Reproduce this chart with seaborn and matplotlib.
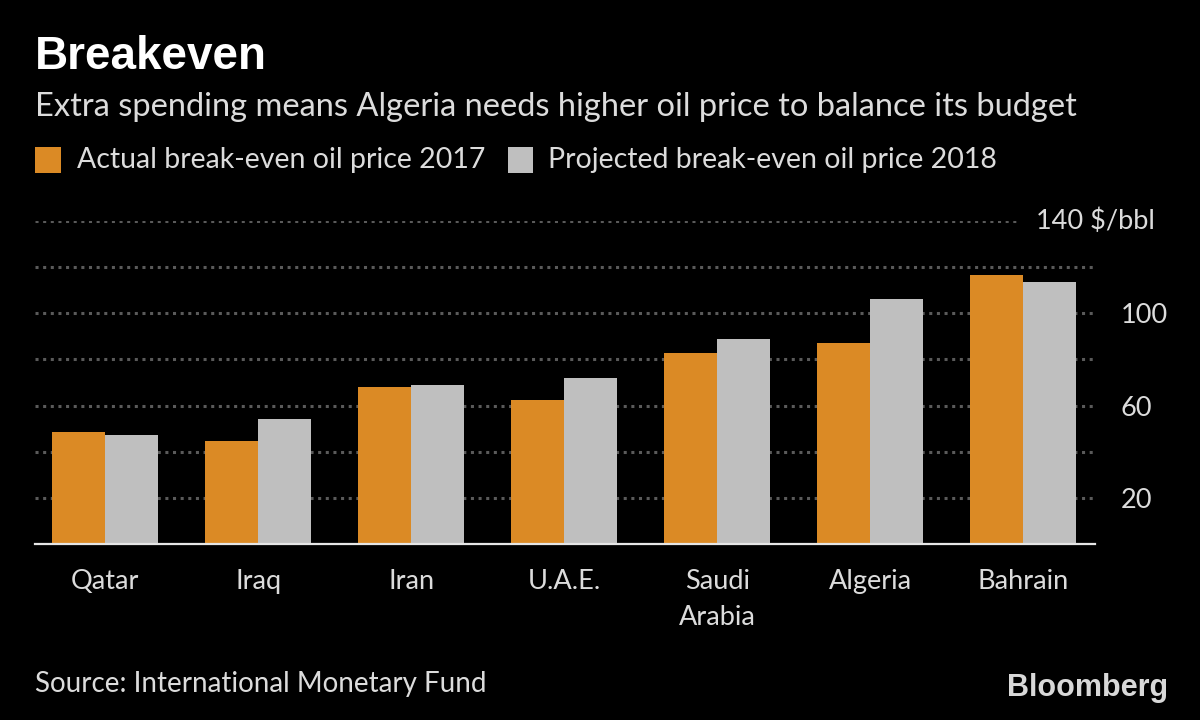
"""
Breakeven oil prices: actual 2017 vs projected 2018 (Bloomberg style, dark).
"""
import matplotlib
matplotlib.use("Agg")
import matplotlib.pyplot as plt
from matplotlib.patches import Rectangle
import pandas as pd
import seaborn as sns

countries = ["Qatar", "Iraq", "Iran", "U.A.E.", "Saudi\nArabia", "Algeria", "Bahrain"]
actual_2017 = [48.7, 44.8, 68.0, 62.3, 83.0, 87.1, 116.7]
projected_2018 = [47.1, 54.2, 68.7, 72.0, 88.7, 106.4, 113.5]
series = ["Actual break-even oil price 2017", "Projected break-even oil price 2018"]
y_ticks = [20, 40, 60, 80, 100, 120]
y_labels = ["20", "", "60", "", "100", ""]

ORANGE = "#db8a25"
GREY = "#bfbfbf"
BG = "#000000"
TXT = "#dcdcdc"

df = pd.DataFrame({
    "country": countries * 2,
    "price": actual_2017 + projected_2018,
    "series": [series[0]] * len(countries) + [series[1]] * len(countries),
})

sns.set_theme(style="dark")
plt.rcParams["font.family"] = ["Lato", "DejaVu Sans"]

fig = plt.figure(figsize=(12, 7.2), dpi=100, facecolor=BG)
ax = fig.add_axes([35 / 1200, 1 - 544 / 720, 1060 / 1200, 323 / 720])
ax.set_facecolor(BG)

sns.barplot(data=df, x="country", y="price", hue="series", hue_order=series,
            palette=[ORANGE, GREY], saturation=1, width=0.693, gap=0,
            legend=False, ax=ax, errorbar=None, linewidth=0)

ax.set_xlim(-0.458, 6.47)
ax.set_ylim(0, 140)
ax.set_xlabel("")
ax.set_ylabel("")

# dotted grid, labels on the right
ax.set_yticks(y_ticks)
ax.set_yticklabels(y_labels)
ax.yaxis.tick_right()
ax.grid(axis="y", color="#5a5a5a", linestyle=(0, (1, 1.5)), linewidth=2.2)
ax.grid(axis="x", visible=False)
ax.set_axisbelow(True)
ax.axhline(140, xmax=(1016 - 35) / 1060, color="#5a5a5a",
           linestyle=(0, (1, 1.5)), linewidth=2.2, zorder=0)
ax.text((1036 - 35) / 1060, 140, "140 $/bbl", transform=ax.get_yaxis_transform(),
        ha="left", va="center", fontsize=19.5, color=TXT)

ax.tick_params(axis="y", which="both", left=False, right=False, labelleft=False,
               labelright=True, pad=12.5, labelsize=19.5, labelcolor=TXT)
ax.tick_params(axis="x", length=8, width=1.5, color="#e0e0e0", pad=10,
               labelsize=19.5, labelcolor=TXT, direction="out")
for side in ["top", "left", "right"]:
    ax.spines[side].set_visible(False)
ax.spines["bottom"].set_color("#e6e6e6")
ax.spines["bottom"].set_linewidth(1.6)
for lbl in ax.get_xticklabels():
    lbl.set_linespacing(1.55)
    lbl.set_verticalalignment("top")

# header
fig.text(35 / 1200, 1 - 57 / 720, "Breakeven", fontsize=33, fontweight="bold",
         color="white", va="center", ha="left", family=["Liberation Sans", "DejaVu Sans"])
fig.text(35 / 1200, 1 - 107 / 720,
         "Extra spending means Algeria needs higher oil price to balance its budget",
         fontsize=23.5, color=TXT, va="center", ha="left")

# legend
for (x0, x1), col, lab, tx in [((35, 61), ORANGE, series[0], 77),
                               ((508, 533), GREY, series[1], 548)]:
    fig.add_artist(Rectangle((x0 / 1200, 1 - 173 / 720), (x1 - x0) / 1200, 26 / 720,
                             transform=fig.transFigure, facecolor=col, edgecolor="none"))
    fig.text(tx / 1200, 1 - 160 / 720, lab, fontsize=20.5, color=TXT, va="center", ha="left")

# footer
fig.text(35 / 1200, 1 - 684 / 720, "Source: International Monetary Fund",
         fontsize=20, color=TXT, va="center", ha="left")
fig.text(1168 / 1200, 1 - 688 / 720, "Bloomberg", fontsize=22, fontweight="bold",
         color="#d8d8d8", va="center", ha="right", family=["Liberation Sans", "DejaVu Sans"])

fig.savefig("out.png", dpi=100, facecolor=BG)
